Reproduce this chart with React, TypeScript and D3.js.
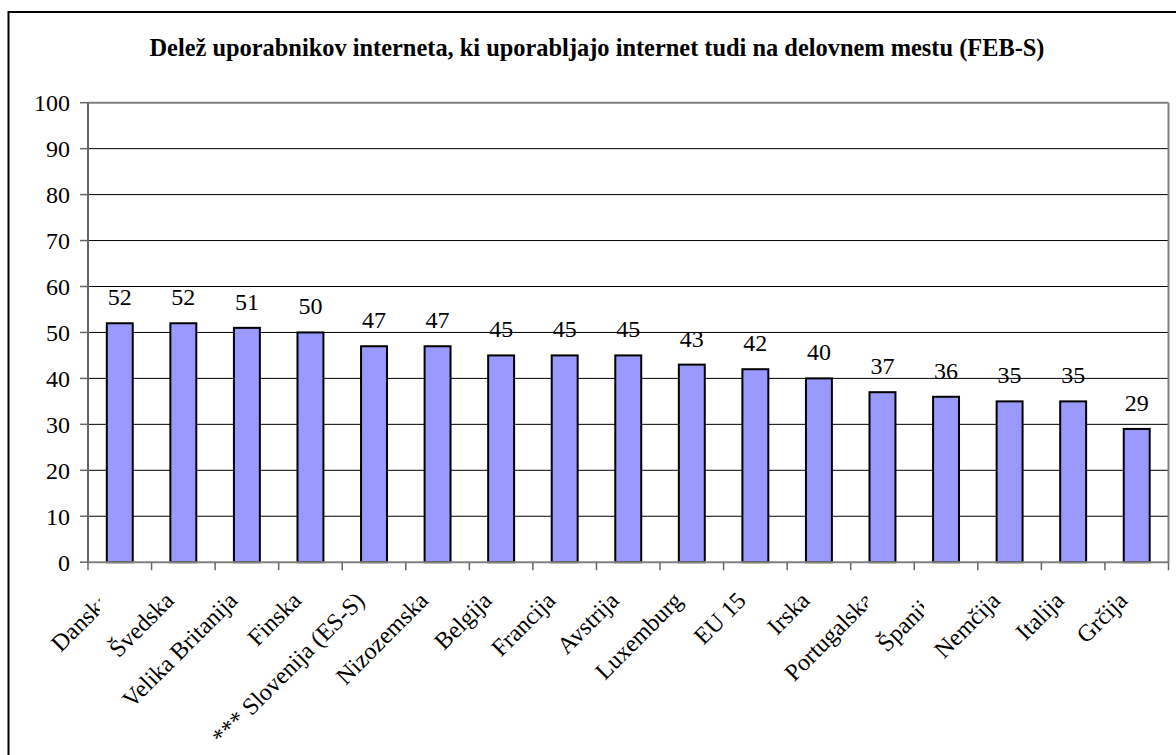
import React from "react";
import * as d3 from "d3";

const categories = [
  "Danska", "Švedska", "Velika Britanija", "Finska", "*** Slovenija (ES-S)",
  "Nizozemska", "Belgija", "Francija", "Avstrija", "Luxemburg", "EU 15",
  "Irska", "Portugalska", "Španija", "Nemčija", "Italija", "Grčija",
];
const values = [52, 52, 51, 50, 47, 47, 45, 45, 45, 43, 42, 40, 37, 36, 35, 35, 29];
const yTicks = [0, 10, 20, 30, 40, 50, 60, 70, 80, 90, 100];
const title = "Delež uporabnikov interneta, ki uporabljajo internet tudi na delovnem mestu (FEB-S)";
// labels that the original chart truncates (clip offset from band centre)
const labelClip: Record<string, number> = { "Danska": -20, "Portugalska": -15, "Španija": -22 };

const W = 1176, H = 755;
const left = 88, right = 1168.5, top = 102.7, bottom = 562.2;
const ts: React.CSSProperties = { fontFamily: '"Liberation Serif"' };

export default function App() {
  const x = d3.scaleBand<string>().domain(categories).range([left, right]).paddingInner(0).paddingOuter(0);
  const y = d3.scaleLinear().domain([0, 100]).range([bottom, top]);
  const bw = x.bandwidth();
  const barW = bw / 2.45;

  return (
    <svg width={W} height={H} style={{ position: "absolute", left: 0, top: 0, background: "#fff" }}>
      <defs>
        {categories.map((c, i) => labelClip[c] !== undefined ? (
          <clipPath id={`clip${i}`} key={c}>
            <rect x={0} y={0} width={(x(c) as number) + bw / 2 + labelClip[c]} height={H} />
          </clipPath>
        ) : null)}
      </defs>
      {/* outer frame (extends beyond the picture) */}
      <rect x={8.5} y={12} width={1300} height={900} fill="none" stroke="#000" strokeWidth={2} />
      <text x={597} y={56} textAnchor="middle" fontWeight="bold" fontSize={24.4} style={ts}>{title}</text>

      {/* gridlines */}
      {yTicks.filter(t => t > 0 && t < 100).map(t => (
        <line key={t} x1={left} x2={right} y1={y(t)} y2={y(t)} stroke="#000" strokeWidth={1} />
      ))}
      {/* plot border top/right */}
      <line x1={left} x2={right} y1={top} y2={top} stroke="#808080" strokeWidth={2} />
      <line x1={right} x2={right} y1={top} y2={bottom} stroke="#808080" strokeWidth={2} />

      {/* bars */}
      {categories.map((c, i) => {
        const cx = (x(c) as number) + bw / 2;
        return (
          <g key={c}>
            <rect x={cx - barW / 2} y={y(values[i])} width={barW} height={bottom - y(values[i])}
              fill="#9999FF" stroke="#000" strokeWidth={2} />
            <text x={cx} y={y(values[i]) - 18} textAnchor="middle" fontSize={24} style={ts}>{values[i]}</text>
          </g>
        );
      })}

      {/* y axis */}
      <line x1={left} x2={left} y1={top} y2={bottom} stroke="#666" strokeWidth={2} />
      {yTicks.map(t => (
        <g key={t}>
          <line x1={left - 8} x2={left} y1={y(t)} y2={y(t)} stroke="#666" strokeWidth={1.5} />
          <text x={70} y={y(t) + 8.5} textAnchor="end" fontSize={24} style={ts}>{t}</text>
        </g>
      ))}

      {/* x axis */}
      <line x1={left} x2={right} y1={bottom} y2={bottom} stroke="#808080" strokeWidth={2} />
      {[...categories.map(c => x(c) as number), right].map((tx, i) => (
        <line key={i} x1={tx} x2={tx} y1={bottom} y2={bottom + 8} stroke="#666" strokeWidth={1.5} />
      ))}
      {categories.map((c, i) => {
        const ax = (x(c) as number) + bw / 2 - 8;
        const ay = 602;
        return (
          <g key={c} clipPath={labelClip[c] !== undefined ? `url(#clip${i})` : undefined}>
            <text x={ax} y={ay} textAnchor="end" fontSize={24} style={ts}
              transform={`rotate(-45 ${ax} ${ay})`}>{c}</text>
          </g>
        );
      })}
    </svg>
  );
}
